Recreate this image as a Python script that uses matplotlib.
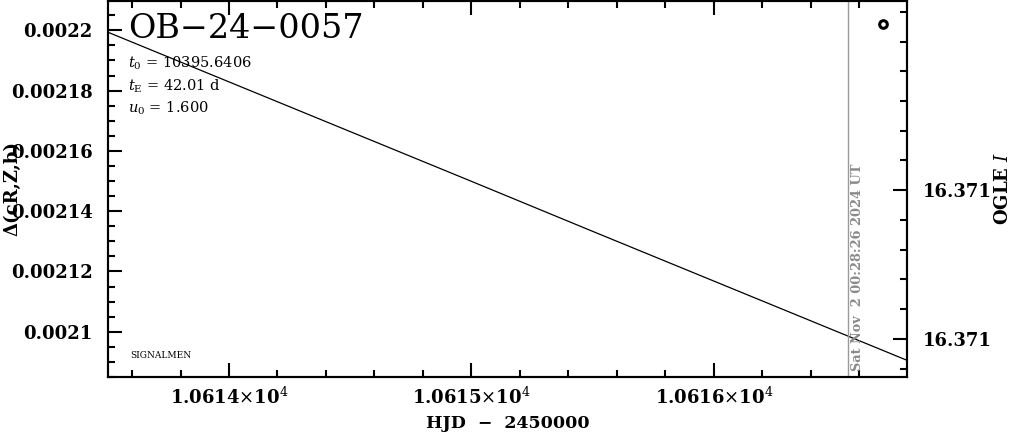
import matplotlib
matplotlib.use("Agg")
import matplotlib.pyplot as plt
from matplotlib.ticker import MultipleLocator, FixedLocator, FuncFormatter

plt.rcParams.update({
    "font.family": ["DejaVu Serif"],
    "mathtext.fontset": "dejavuserif",
    "axes.linewidth": 1.5,
})

# ---------------------------------------------------------------------------
# Data
# ---------------------------------------------------------------------------
event = "OB−24−0057"
t0, tE, u0 = 10395.6406, 42.01, 1.600

model_hjd = [10613.5, 10614.0, 10614.5, 10615.0, 10615.5, 10616.0, 10616.5, 10616.8]
model_delta = [0.0021994, 0.0021829, 0.0021664, 0.0021499, 0.0021333,
               0.0021168, 0.0021003, 0.0020904]

obs_hjd = [10616.699]
obs_delta = [0.00220215]

now_hjd = 10616.553
now_label = "Sat Nov  2 00:28:26 2024 UT"

xlim = (10613.501, 10616.796)
ylim = (0.00208499, 0.0022099)
mag_lim = (16.3710628, 16.3709362)
mag_ticks = [16.37100, 16.37105]

x_ticks = [10614, 10615, 10616]
x_tick_labels = [r"1.0614$\times$10$^{4}$", r"1.0615$\times$10$^{4}$", r"1.0616$\times$10$^{4}$"]

# ---------------------------------------------------------------------------
# Plot
# ---------------------------------------------------------------------------
W, H = 1011, 434
fig = plt.figure(figsize=(W / 100, H / 100), dpi=100)
ax = fig.add_axes([108 / W, 1 - 377 / H, 799 / W, 376.5 / H])
AW, AH = 799, 376.5

ax.plot(model_hjd, model_delta, color="black", lw=0.9)
ax.plot(obs_hjd, obs_delta, "o", ms=5.5, mfc="white", mec="black", mew=2.2)
ax.axvline(now_hjd, color="#9a9a9a", lw=1.0)

ax.set_xlim(*xlim)
ax.set_ylim(*ylim)

ax.xaxis.set_major_locator(FixedLocator(x_ticks))
ax.set_xticklabels(x_tick_labels)
ax.xaxis.set_minor_locator(MultipleLocator(0.2))
ax.yaxis.set_major_locator(MultipleLocator(0.00002))
ax.yaxis.set_minor_locator(MultipleLocator(0.000005))
ax.yaxis.set_major_formatter(FuncFormatter(lambda v, p: f"{v:g}"))

ax.tick_params(which="both", direction="in", top=True, right=False, width=1.5)
ax.tick_params(which="major", length=10)
ax.tick_params(which="minor", length=5)
ax.tick_params(axis="y", labelsize=13, pad=11)
ax.tick_params(axis="x", labelsize=13, pad=7)
for lab in ax.get_yticklabels() + ax.get_xticklabels():
    lab.set_fontweight("bold")

ax.set_xlabel("HJD  −  2450000", fontsize=12.5, fontweight="bold")
ax.xaxis.set_label_coords(0.5, (377 - 415) / AH)
ax.set_ylabel("Δ(cR,Z,b)", fontsize=13, fontweight="bold")
ax.yaxis.set_label_coords((21 - 108) / AW, 0.5)

ax2 = ax.twinx()
ax2.set_ylim(*mag_lim)
ax2.yaxis.set_major_locator(FixedLocator(mag_ticks))
ax2.yaxis.set_minor_locator(MultipleLocator(0.00001))
ax2.yaxis.set_major_formatter(FuncFormatter(lambda v, p: f"{v:.3f}"))
ax2.tick_params(which="both", direction="in", width=1.5, labelsize=13, pad=11)
ax2.tick_params(which="major", length=10)
ax2.tick_params(which="minor", length=5)
for lab in ax2.get_yticklabels():
    lab.set_fontweight("bold")
ax2.set_ylabel(r"OGLE $I$", fontsize=13, fontweight="bold")
ax2.yaxis.set_label_coords((994 - 108) / AW, 0.5)

ax.text(20 / AW, 1 - 38 / AH, event, transform=ax.transAxes,
        fontsize=24, ha="left", va="baseline")
ax.text(20 / AW, 1 - 67 / AH, rf"$t_0$ = {t0:.4f}", transform=ax.transAxes,
        fontsize=10.5, ha="left", va="baseline")
ax.text(20 / AW, 1 - 90 / AH, rf"$t_{{\rm E}}$ = {tE:.2f} d", transform=ax.transAxes,
        fontsize=10.5, ha="left", va="baseline")
ax.text(20 / AW, 1 - 112 / AH, rf"$u_0$ = {u0:.3f}", transform=ax.transAxes,
        fontsize=10.5, ha="left", va="baseline")
ax.text(22 / AW, 1 - 358 / AH, "SIGNALMEN", transform=ax.transAxes,
        fontsize=6.5, ha="left", va="baseline")
ax.text((857 - 108) / AW, 6 / AH, now_label, transform=ax.transAxes,
        rotation=90, fontsize=9.3, color="#8a8a8a", fontweight="bold",
        ha="center", va="bottom")

fig.savefig("out.png", dpi=100)
